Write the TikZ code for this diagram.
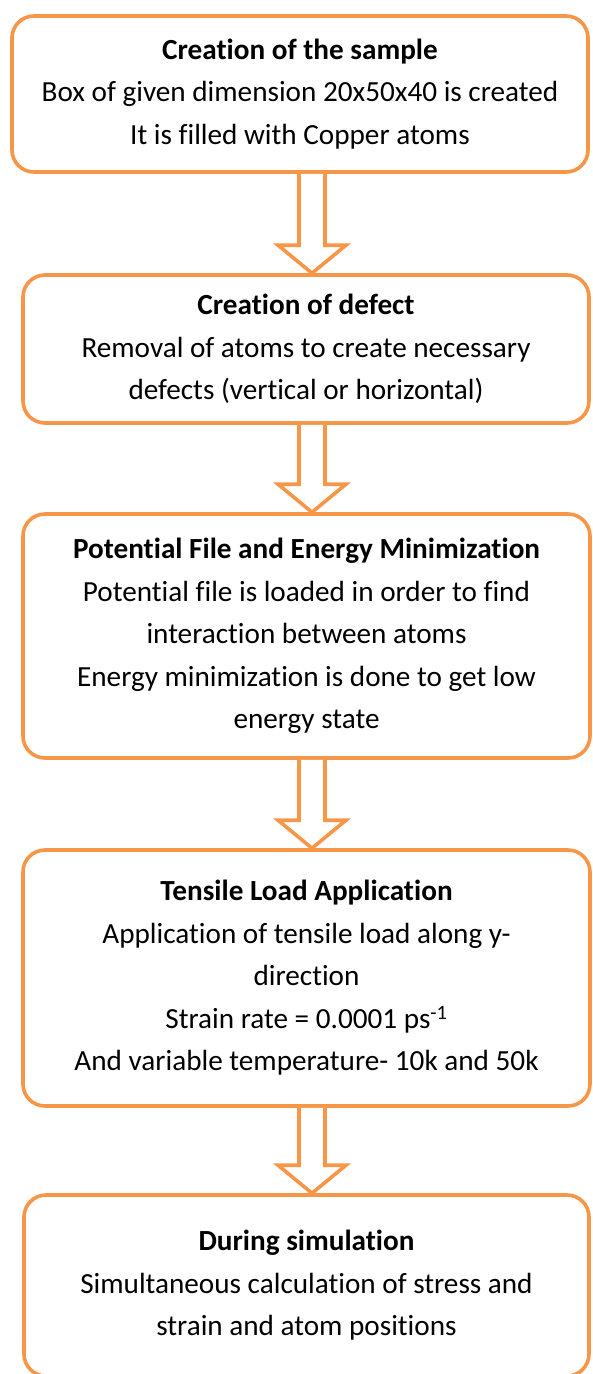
\documentclass[tikz,border=0pt]{standalone}
\usepackage{fontspec}
\setmainfont{Carlito}[Ligatures=NoCommon]
\usetikzlibrary{calc}
\definecolor{boxorange}{HTML}{F79646}
\tikzset{
  stagebox/.style={draw=boxorange, line width=3.6pt, rounded corners=22pt, fill=white,
    inner sep=0pt, align=center, font=\fontsize{29.2}{42.5}\selectfont},
  hollowarrow/.style={draw=boxorange, line width=3.6pt, fill=white, line join=miter},
}
\newcommand{\flowarrow}[2]{%
  \draw[hollowarrow] ($(#1.south -| ax)+(-13,0)$) -- ($(#2.north -| ax)+(-13,-28)$)
    -- ($(#2.north -| ax)+(-34,-28)$) -- (#2.north -| ax)
    -- ($(#2.north -| ax)+(34,-28)$) -- ($(#2.north -| ax)+(13,-28)$)
    -- ($(#1.south -| ax)+(13,0)$);}
\begin{document}
\begin{tikzpicture}[x=1pt,y=-1pt]
\useasboundingbox (0,0) rectangle (592,1374);
\coordinate (ax) at (312,0);
\node[stagebox, minimum width=576pt, minimum height=156pt] (s1) at (300,94)
  {\textbf{Creation of the sample}\\Box of given dimension 20x50x40 is created\\It is filled with Copper atoms};
\node[stagebox, minimum width=566pt, minimum height=148pt] (s2) at (306,349)
  {\textbf{Creation of defect}\\Removal of atoms to create necessary\\defects (vertical or horizontal)};
\node[stagebox, minimum width=567pt, minimum height=244pt] (s3) at (306.5,636)
  {\textbf{Potential File and Energy Minimization}\\Potential file is loaded in order to find\\interaction between atoms\\Energy minimization is done to get low\\energy state};
\node[stagebox, minimum width=567pt, minimum height=256pt] (s4) at (306.5,978)
  {\textbf{Tensile Load Application}\\Application of tensile load along y-\\direction\\Strain rate = 0.0001 ps\textsuperscript{-1}\\And variable temperature- 10k and 50k};
\node[stagebox, minimum width=565pt, minimum height=181pt] (s5) at (306.5,1285.5)
  {\textbf{During simulation}\\Simultaneous calculation of stress and\\strain and atom positions};
\flowarrow{s1}{s2}
\flowarrow{s2}{s3}
\flowarrow{s3}{s4}
\flowarrow{s4}{s5}
\end{tikzpicture}
\end{document}
